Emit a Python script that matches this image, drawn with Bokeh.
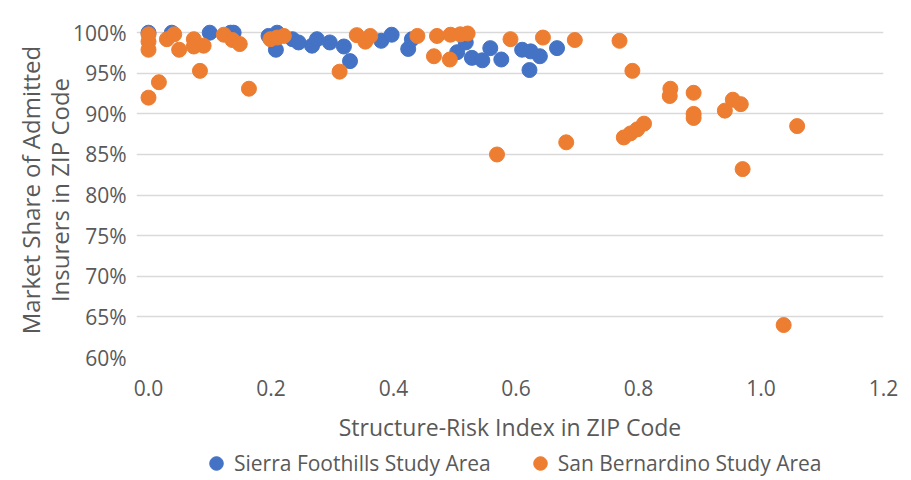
from bokeh.plotting import figure
from bokeh.layouts import column
from bokeh.models import (ColumnDataSource, FixedTicker, NumeralTickFormatter,
                          Legend, LegendItem, Range1d)
from bokeh.embed import file_html
from bokeh.resources import INLINE

# ---------------- data ----------------
sierra_x = [0.000, 0.038, 0.100, 0.134, 0.139, 0.196, 0.210, 0.208, 0.235, 0.245,
            0.267, 0.275, 0.296, 0.319, 0.329, 0.380, 0.397, 0.424, 0.430, 0.504,
            0.518, 0.528, 0.545, 0.558, 0.576, 0.610, 0.624, 0.622, 0.639, 0.667]
sierra_y = [1.000, 1.000, 1.000, 1.000, 1.000, 0.996, 1.000, 0.979, 0.992, 0.988,
            0.984, 0.992, 0.988, 0.983, 0.965, 0.990, 0.9975, 0.980, 0.992, 0.976,
            0.988, 0.969, 0.966, 0.981, 0.967, 0.979, 0.977, 0.954, 0.971, 0.981]

sanb_x = [0.000, 0.000, 0.000, 0.000, 0.017, 0.030, 0.042, 0.050, 0.074, 0.074,
          0.090, 0.084, 0.123, 0.137, 0.149, 0.164, 0.199, 0.210, 0.221, 0.312,
          0.340, 0.354, 0.362, 0.439, 0.466, 0.471, 0.492, 0.493, 0.509, 0.521,
          0.569, 0.591, 0.644, 0.682, 0.696, 0.769, 0.776, 0.787, 0.798, 0.809,
          0.790, 0.852, 0.851, 0.890, 0.890, 0.890, 0.941, 0.954, 0.967, 0.970,
          1.037, 1.059]
sanb_y = [0.998, 0.989, 0.979, 0.920, 0.939, 0.992, 0.998, 0.979, 0.992, 0.983,
          0.984, 0.953, 0.9975, 0.991, 0.986, 0.931, 0.992, 0.994, 0.996, 0.952,
          0.997, 0.989, 0.996, 0.996, 0.971, 0.996, 0.967, 0.9975, 0.998, 0.999,
          0.850, 0.992, 0.994, 0.865, 0.991, 0.990, 0.871, 0.876, 0.881, 0.888,
          0.953, 0.931, 0.922, 0.926, 0.900, 0.895, 0.904, 0.9175, 0.912, 0.832,
          0.640, 0.885]

x_ticks = [0.0, 0.2, 0.4, 0.6, 0.8, 1.0, 1.2]
y_ticks = [0.60, 0.65, 0.70, 0.75, 0.80, 0.85, 0.90, 0.95, 1.00]

series_names = ["Sierra Foothills Study Area", "San Bernardino Study Area"]
x_title = "Structure-Risk Index in ZIP Code"
y_title = "Market Share of Admitted\nInsurers in ZIP Code"

BLUE = "#4472C4"
ORANGE = "#ED7D31"
TEXT = "#595959"
GRID = "#D9D9D9"
FONT = "Open Sans"

# ---------------- main figure ----------------
p = figure(width=911, height=446, output_backend="svg", toolbar_location=None,
           x_range=Range1d(-0.0196, 1.2), y_range=Range1d(0.6, 1.01256),
           min_border_left=136, min_border_right=28, min_border_top=22,
           min_border_bottom=89)
p.outline_line_color = None
p.background_fill_color = "white"
p.border_fill_color = "white"

src_s = ColumnDataSource(dict(x=sierra_x, y=sierra_y))
src_b = ColumnDataSource(dict(x=sanb_x, y=sanb_y))
p.scatter("x", "y", source=src_s, size=15, fill_color=BLUE, line_color=BLUE)
p.scatter("x", "y", source=src_b, size=15, fill_color=ORANGE, line_color=ORANGE)

p.xaxis.ticker = FixedTicker(ticks=x_ticks)
p.xaxis.formatter = NumeralTickFormatter(format="0.0")
p.yaxis.ticker = FixedTicker(ticks=y_ticks)
p.yaxis.formatter = NumeralTickFormatter(format="0%")
for ax in (p.xaxis[0], p.yaxis[0]):
    ax.axis_line_color = None
    ax.major_tick_line_color = None
    ax.minor_tick_line_color = None
    ax.major_tick_in = 0
    ax.major_tick_out = 0
    ax.minor_tick_in = 0
    ax.minor_tick_out = 0
    ax.major_label_text_font = FONT
    ax.major_label_text_font_size = "21px"
    ax.major_label_text_color = TEXT
    ax.axis_label_text_font = FONT
    ax.axis_label_text_font_style = "normal"
    ax.axis_label_text_color = TEXT
p.xaxis.major_label_standoff = 22
p.yaxis.major_label_standoff = 10
p.xaxis.axis_label = x_title
p.xaxis.axis_label_text_font_size = "23px"
p.xaxis.axis_label_standoff = 12
p.yaxis.axis_label = y_title
p.yaxis.axis_label_text_font_size = "24px"
p.yaxis.axis_label_text_line_height = 0.89
p.yaxis.axis_label_standoff = -6

p.xgrid.grid_line_color = None
p.ygrid.ticker = FixedTicker(ticks=y_ticks)
p.ygrid.grid_line_color = GRID
p.ygrid.grid_line_width = 1.5
p.ygrid.bounds = (x_ticks[0], x_ticks[-1])

# ---------------- legend strip ----------------
# the legend keys reuse the series sources; the strip's ranges keep the
# points themselves out of view, so only the legend is shown
lg = figure(width=911, height=34, output_backend="svg", toolbar_location=None,
            x_range=Range1d(10, 11), y_range=Range1d(10, 11),
            x_axis_location=None, y_axis_location=None,
            min_border_left=0, min_border_right=0, min_border_top=0,
            min_border_bottom=0)
lg.outline_line_color = None
lg.xgrid.visible = False
lg.ygrid.visible = False
key_s = lg.scatter("x", "y", source=src_s, size=15, fill_color=BLUE, line_color=BLUE)
key_b = lg.scatter("x", "y", source=src_b, size=15, fill_color=ORANGE, line_color=ORANGE)
legend = Legend(items=[LegendItem(label=series_names[0], renderers=[key_s]),
                       LegendItem(label=series_names[1], renderers=[key_b])],
                orientation="horizontal", location=(62, 0),
                glyph_width=36, glyph_height=34, label_standoff=0, spacing=31,
                padding=0, margin=0, border_line_color=None,
                background_fill_alpha=0,
                label_text_font=FONT, label_text_font_size="21px",
                label_text_color=TEXT)
lg.add_layout(legend, "center")

layout = column(p, lg, spacing=0)
open("out.html", "w").write(file_html(layout, INLINE))
